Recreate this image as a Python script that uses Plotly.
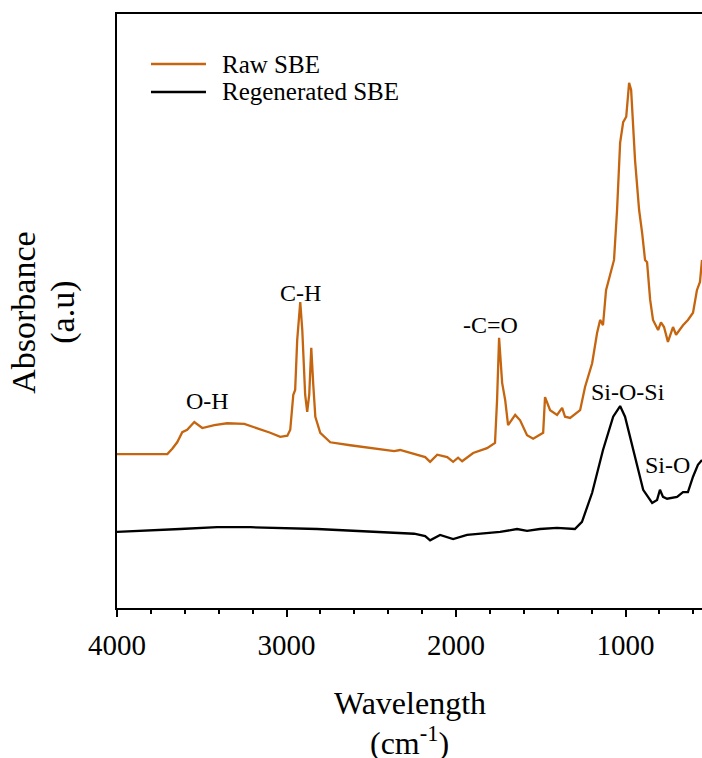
import plotly.graph_objects as go

# Raw SBE spectrum (wavenumber cm-1, absorbance a.u.)
raw_wn = [4000, 3804, 3703, 3674, 3645, 3615, 3586, 3544, 3497, 3426, 3350, 3249, 3173, 3096,
          3037, 2995, 2978, 2960, 2949, 2937, 2919, 2907, 2890, 2878, 2866, 2854, 2842, 2830,
          2801, 2742, 2624, 2365, 2330, 2230, 2182, 2153, 2111, 2052, 2017, 1988, 1964, 1899,
          1817, 1770, 1758, 1746, 1728, 1710, 1693, 1651, 1622, 1581, 1545, 1486, 1475, 1445,
          1404, 1374, 1357, 1327, 1268, 1239, 1197, 1168, 1150, 1133, 1115, 1091, 1068, 1050,
          1032, 1014, 996, 979, 967, 944, 920, 902, 885, 873, 855, 838, 808, 791, 773, 750,
          720, 702, 661, 632, 602, 579, 561, 549]
raw_abs = [0.259, 0.259, 0.259, 0.268, 0.279, 0.296, 0.300, 0.313, 0.303, 0.308, 0.311, 0.310,
           0.303, 0.295, 0.288, 0.290, 0.300, 0.359, 0.367, 0.451, 0.515, 0.468, 0.359, 0.330,
           0.359, 0.438, 0.375, 0.322, 0.295, 0.279, 0.274, 0.264, 0.266, 0.258, 0.254, 0.246,
           0.258, 0.254, 0.246, 0.253, 0.247, 0.261, 0.269, 0.278, 0.350, 0.455, 0.379, 0.350,
           0.308, 0.325, 0.316, 0.291, 0.285, 0.295, 0.355, 0.333, 0.325, 0.337, 0.322, 0.320,
           0.333, 0.372, 0.412, 0.463, 0.485, 0.476, 0.535, 0.561, 0.586, 0.670, 0.783, 0.818,
           0.827, 0.884, 0.872, 0.754, 0.670, 0.631, 0.586, 0.582, 0.519, 0.485, 0.468, 0.481,
           0.473, 0.448, 0.473, 0.460, 0.476, 0.485, 0.497, 0.535, 0.549, 0.586]

# Regenerated SBE spectrum
reg_wn = [4000, 3804, 3627, 3409, 3214, 2819, 2424, 2247, 2182, 2153, 2094, 2017, 1935, 1740,
          1640, 1581, 1505, 1405, 1299, 1257, 1197, 1133, 1073, 1032, 1003, 955, 896, 843,
          814, 797, 779, 755, 696, 661, 632, 602, 573, 549]
reg_abs = [0.128, 0.130, 0.133, 0.136, 0.136, 0.133, 0.128, 0.125, 0.121, 0.114, 0.123, 0.116,
           0.123, 0.128, 0.133, 0.130, 0.133, 0.135, 0.133, 0.145, 0.194, 0.266, 0.322, 0.340,
           0.322, 0.266, 0.199, 0.177, 0.182, 0.199, 0.187, 0.184, 0.187, 0.195, 0.195, 0.221,
           0.241, 0.249]

# Band labels
band_text = ["O-H", "C-H", "-C=O", "Si-O-Si", "Si-O"]
band_wn = [3468, 2919, 1798, 985, 750]
band_abs = [0.348, 0.530, 0.476, 0.364, 0.241]

series_names = ["Raw SBE", "Regenerated SBE"]

FONT = "Times New Roman, Liberation Serif, serif"
ORANGE = "#C5650F"
colors = [ORANGE, "black"]

fig = go.Figure()
fig.add_trace(go.Scatter(x=raw_wn, y=raw_abs, mode="lines", name=series_names[0],
                         line=dict(color=colors[0], width=2.3), showlegend=False))
fig.add_trace(go.Scatter(x=reg_wn, y=reg_abs, mode="lines", name=series_names[1],
                         line=dict(color=colors[1], width=2.3), showlegend=False))

for t, x, y in zip(band_text, band_wn, band_abs):
    fig.add_annotation(x=x, y=y, xref="x", yref="y", text=t, showarrow=False,
                       font=dict(family=FONT, size=24, color="black"),
                       xanchor="center", yanchor="middle")

# legend (drawn as key lines + labels)
leg_y = [0.9158, 0.8687]
for name, c, ly in zip(series_names, colors, leg_y):
    fig.add_shape(type="line", xref="paper", yref="paper", x0=0.0581, x1=0.1521,
                  y0=ly, y1=ly, line=dict(color=c, width=2.3))
    fig.add_annotation(x=0.1760, y=ly, xref="paper", yref="paper", text=name,
                       showarrow=False, xanchor="left", yanchor="middle",
                       font=dict(family=FONT, size=25, color="black"))

# axis titles
fig.add_annotation(x=-0.159, y=0.497, xref="paper", yref="paper", text="Absorbance",
                   textangle=-90, showarrow=False, xanchor="center", yanchor="middle",
                   font=dict(family=FONT, size=34, color="black"))
fig.add_annotation(x=-0.0923, y=0.497, xref="paper", yref="paper", text="(a.u)",
                   textangle=-90, showarrow=False, xanchor="center", yanchor="middle",
                   font=dict(family=FONT, size=34, color="black"))
fig.add_annotation(x=0.5, y=-0.160, xref="paper", yref="paper", text="Wavelength",
                   showarrow=False, xanchor="center", yanchor="middle",
                   font=dict(family=FONT, size=32, color="black"))
fig.add_annotation(x=0.5, y=-0.224, xref="paper", yref="paper", text="(cm<sup>-1</sup>)",
                   showarrow=False, xanchor="center", yanchor="middle",
                   font=dict(family=FONT, size=32, color="black"))

fig.update_layout(
    width=702, height=758,
    margin=dict(l=117, r=0, t=14, b=150),
    paper_bgcolor="white", plot_bgcolor="white",
    showlegend=False,
    font=dict(family=FONT, color="black"),
)
fig.update_xaxes(range=[4000, 549], tick0=0, dtick=1000, ticks="outside", ticklen=7,
                 tickwidth=1.5, tickcolor="black", showline=True, linecolor="black",
                 linewidth=1.5, mirror=True, showgrid=False, zeroline=False,
                 ticklabelstandoff=3,
                 tickfont=dict(family=FONT, size=29, color="black"),
                 minor=dict(ticks="outside", ticklen=4, tickwidth=1.5, tickcolor="black",
                            dtick=200, tick0=0, showgrid=False))
fig.update_yaxes(range=[0, 1], showticklabels=False, ticks="", showline=True,
                 linecolor="black", linewidth=1.5, mirror=False, showgrid=False,
                 zeroline=False)

fig.write_html("out.html", config={"displayModeBar": False})

# remove the default page margin so the figure fills the window exactly
with open("out.html", "r", encoding="utf-8") as f:
    html = f.read()
html = html.replace("<head>", "<head><style>html,body{margin:0;padding:0;overflow:hidden;}</style>", 1)
with open("out.html", "w", encoding="utf-8") as f:
    f.write(html)
